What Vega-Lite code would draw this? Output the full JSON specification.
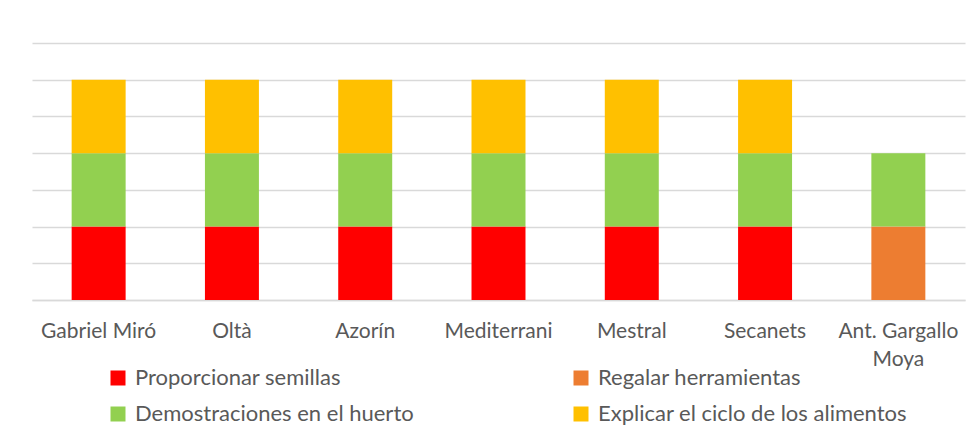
{
  "$schema": "https://vega.github.io/schema/vega-lite/v6.json",
  "width": 933,
  "height": 257,
  "autosize": {"type": "none"},
  "padding": {"left": 32, "top": 43, "right": 9, "bottom": 139},
  "background": "white",
  "config": {
    "view": {"stroke": null},
    "font": "Lato"
  },
  "data": {
    "values": [
      {"escuela": "Gabriel Miró", "accion": "Proporcionar semillas", "valor": 1, "orden": 1},
      {"escuela": "Gabriel Miró", "accion": "Demostraciones en el huerto", "valor": 1, "orden": 3},
      {"escuela": "Gabriel Miró", "accion": "Explicar el ciclo de los alimentos", "valor": 1, "orden": 4},
      {"escuela": "Oltà", "accion": "Proporcionar semillas", "valor": 1, "orden": 1},
      {"escuela": "Oltà", "accion": "Demostraciones en el huerto", "valor": 1, "orden": 3},
      {"escuela": "Oltà", "accion": "Explicar el ciclo de los alimentos", "valor": 1, "orden": 4},
      {"escuela": "Azorín", "accion": "Proporcionar semillas", "valor": 1, "orden": 1},
      {"escuela": "Azorín", "accion": "Demostraciones en el huerto", "valor": 1, "orden": 3},
      {"escuela": "Azorín", "accion": "Explicar el ciclo de los alimentos", "valor": 1, "orden": 4},
      {"escuela": "Mediterrani", "accion": "Proporcionar semillas", "valor": 1, "orden": 1},
      {"escuela": "Mediterrani", "accion": "Demostraciones en el huerto", "valor": 1, "orden": 3},
      {"escuela": "Mediterrani", "accion": "Explicar el ciclo de los alimentos", "valor": 1, "orden": 4},
      {"escuela": "Mestral", "accion": "Proporcionar semillas", "valor": 1, "orden": 1},
      {"escuela": "Mestral", "accion": "Demostraciones en el huerto", "valor": 1, "orden": 3},
      {"escuela": "Mestral", "accion": "Explicar el ciclo de los alimentos", "valor": 1, "orden": 4},
      {"escuela": "Secanets", "accion": "Proporcionar semillas", "valor": 1, "orden": 1},
      {"escuela": "Secanets", "accion": "Demostraciones en el huerto", "valor": 1, "orden": 3},
      {"escuela": "Secanets", "accion": "Explicar el ciclo de los alimentos", "valor": 1, "orden": 4},
      {"escuela": "Ant. Gargallo Moya", "accion": "Regalar herramientas", "valor": 1, "orden": 2},
      {"escuela": "Ant. Gargallo Moya", "accion": "Demostraciones en el huerto", "valor": 1, "orden": 3}
    ]
  },
  "mark": {"type": "bar"},
  "encoding": {
    "x": {
      "field": "escuela",
      "type": "nominal",
      "sort": null,
      "scale": {"paddingInner": 0.595, "paddingOuter": 0.2975},
      "axis": {
        "title": null,
        "labelAngle": 0,
        "labelFontSize": 21,
        "labelColor": "#595959",
        "labelPadding": 20,
        "labelLineHeight": 28,
        "labelExpr": "datum.label == 'Ant. Gargallo Moya' ? ['Ant. Gargallo', 'Moya'] : datum.label",
        "ticks": false,
        "domainColor": "#d9d9d9",
        "domainWidth": 1.5,
        "grid": false
      }
    },
    "y": {
      "field": "valor",
      "type": "quantitative",
      "stack": "zero",
      "scale": {"domain": [0, 3.5], "nice": false},
      "axis": {
        "title": null,
        "labels": false,
        "ticks": false,
        "domain": false,
        "values": [0, 0.5, 1, 1.5, 2, 2.5, 3, 3.5],
        "gridColor": "#d9d9d9",
        "gridWidth": 1.5
      }
    },
    "color": {
      "field": "accion",
      "type": "nominal",
      "scale": {
        "domain": ["Proporcionar semillas", "Demostraciones en el huerto", "Regalar herramientas", "Explicar el ciclo de los alimentos"],
        "range": ["#FF0000", "#92D050", "#ED7D31", "#FFC000"]
      },
      "legend": {
        "title": null,
        "orient": "none",
        "legendX": 75,
        "legendY": 324,
        "columns": 2,
        "columnPadding": 156,
        "rowPadding": 14,
        "symbolType": "square",
        "symbolSize": 225,
        "symbolStrokeWidth": 0,
        "labelFontSize": 22,
        "labelColor": "#595959",
        "labelOffset": 6,
        "labelLimit": 400
      }
    },
    "order": {"field": "orden", "type": "quantitative"}
  }
}
